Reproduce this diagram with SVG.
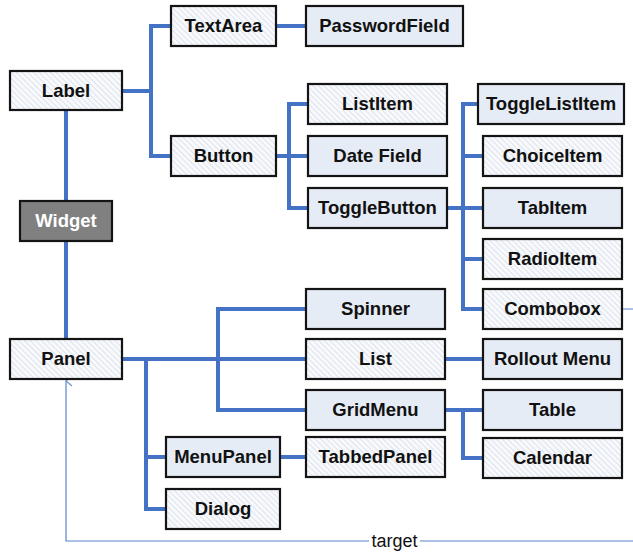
<svg xmlns="http://www.w3.org/2000/svg" width="633" height="552" viewBox="0 0 633 552">
<defs>
<pattern id="hatch" patternUnits="userSpaceOnUse" width="4" height="4" patternTransform="rotate(-45)">
<rect width="4" height="4" fill="#f7f9fc"/>
<line x1="0" y1="0" x2="0" y2="4" stroke="#cdd5e0" stroke-width="1.2"/>
</pattern>
<marker id="openArrow" viewBox="0 0 12 12" refX="6" refY="1" markerWidth="12" markerHeight="12" markerUnits="userSpaceOnUse" orient="auto-start-reverse">
<path d="M1,7 L6,1 L11,7" fill="none" stroke="#6f93d2" stroke-width="1.2"/>
</marker>
</defs>
<style>
.box{stroke:#141414;stroke-width:2.2}
.plain{fill:#e6ecf6}
.hatched{fill:url(#hatch)}
.dark{fill:#808080}
.lbl{font-family:"Liberation Sans",Arial,sans-serif;font-weight:bold;font-size:18.5px;text-anchor:middle;fill:#111}
.wlbl{fill:#ffffff}
.conn{fill:none;stroke:#4472c4;stroke-width:4}
.thin{fill:none;stroke:#5b84cc;stroke-width:1.2}
.tgt{font-family:"Liberation Sans",Arial,sans-serif;font-size:18px;fill:#111;text-anchor:middle}
</style>
<rect width="633" height="552" fill="#ffffff"/>
<g id="connectors">
<path class="conn" d="M66,110 V339"/>
<path class="conn" d="M122,91 H151"/>
<path class="conn" d="M171,26 H151 V156 H171"/>
<path class="conn" d="M276,26 H306"/>
<path class="conn" d="M276,156 H308"/>
<path class="conn" d="M308,104 H289 V208 H308"/>
<path class="conn" d="M447,208 H483"/>
<path class="conn" d="M478,104 H463 V309 H483"/>
<path class="conn" d="M463,156 H483 M463,259 H483"/>
<path class="conn" d="M122,359 H306"/>
<path class="conn" d="M306,309 H218 V410 H306"/>
<path class="conn" d="M146,359 V509 H166 M146,457 H166"/>
<path class="conn" d="M280,457 H306"/>
<path class="conn" d="M444,359 H483"/>
<path class="conn" d="M444,410 H483 M463,410 V458 H483"/>
<path class="thin" d="M621,309 H640 V541 H66 V381" marker-end="url(#openArrow)"/>
<rect x="369" y="532" width="51" height="18" fill="#ffffff"/>
<text class="tgt" x="394.5" y="547">target</text>
</g>
<g id="n-label"><rect class="box hatched" x="10" y="71" width="112" height="39"/><text class="lbl" x="66" y="97">Label</text></g>
<g id="n-textarea"><rect class="box hatched" x="171" y="6" width="105" height="40"/><text class="lbl" x="223.5" y="32">TextArea</text></g>
<g id="n-button"><rect class="box hatched" x="171" y="136" width="105" height="40"/><text class="lbl" x="223.5" y="162">Button</text></g>
<g id="n-widget"><rect class="box dark" x="20" y="201" width="92" height="40"/><text class="lbl wlbl" x="66" y="227">Widget</text></g>
<g id="n-passwordfield"><rect class="box plain" x="306" y="6" width="157" height="40"/><text class="lbl" x="384.5" y="32">PasswordField</text></g>
<g id="n-listitem"><rect class="box hatched" x="308" y="84" width="139" height="40"/><text class="lbl" x="377.5" y="110">ListItem</text></g>
<g id="n-datefield"><rect class="box plain" x="308" y="136" width="139" height="40"/><text class="lbl" x="377.5" y="162">Date Field</text></g>
<g id="n-togglebutton"><rect class="box plain" x="308" y="188" width="139" height="40"/><text class="lbl" x="377.5" y="214">ToggleButton</text></g>
<g id="n-togglelistitem"><rect class="box plain" x="478" y="84" width="146" height="40"/><text class="lbl" x="551" y="110">ToggleListItem</text></g>
<g id="n-choiceitem"><rect class="box hatched" x="483" y="136" width="139" height="40"/><text class="lbl" x="552.5" y="162">ChoiceItem</text></g>
<g id="n-tabitem"><rect class="box plain" x="483" y="188" width="139" height="40"/><text class="lbl" x="552.5" y="214">TabItem</text></g>
<g id="n-radioitem"><rect class="box hatched" x="483" y="239" width="139" height="40"/><text class="lbl" x="552.5" y="265">RadioItem</text></g>
<g id="n-combobox"><rect class="box hatched" x="483" y="289" width="139" height="40"/><text class="lbl" x="552.5" y="315">Combobox</text></g>
<g id="n-spinner"><rect class="box plain" x="306" y="289" width="139" height="40"/><text class="lbl" x="375.5" y="315">Spinner</text></g>
<g id="n-list"><rect class="box hatched" x="306" y="339" width="139" height="40"/><text class="lbl" x="375.5" y="365">List</text></g>
<g id="n-gridmenu"><rect class="box plain" x="306" y="390" width="139" height="40"/><text class="lbl" x="375.5" y="416">GridMenu</text></g>
<g id="n-tabbedpanel"><rect class="box hatched" x="306" y="437" width="139" height="40"/><text class="lbl" x="375.5" y="463">TabbedPanel</text></g>
<g id="n-rolloutmenu"><rect class="box plain" x="483" y="339" width="139" height="40"/><text class="lbl" x="552.5" y="365">Rollout Menu</text></g>
<g id="n-table"><rect class="box plain" x="483" y="390" width="139" height="40"/><text class="lbl" x="552.5" y="416">Table</text></g>
<g id="n-calendar"><rect class="box hatched" x="483" y="438" width="139" height="40"/><text class="lbl" x="552.5" y="464">Calendar</text></g>
<g id="n-panel"><rect class="box hatched" x="10" y="339" width="112" height="40"/><text class="lbl" x="66" y="365">Panel</text></g>
<g id="n-menupanel"><rect class="box plain" x="166" y="437" width="114" height="40"/><text class="lbl" x="223" y="463">MenuPanel</text></g>
<g id="n-dialog"><rect class="box hatched" x="166" y="489" width="114" height="40"/><text class="lbl" x="223" y="515">Dialog</text></g>
</svg>
